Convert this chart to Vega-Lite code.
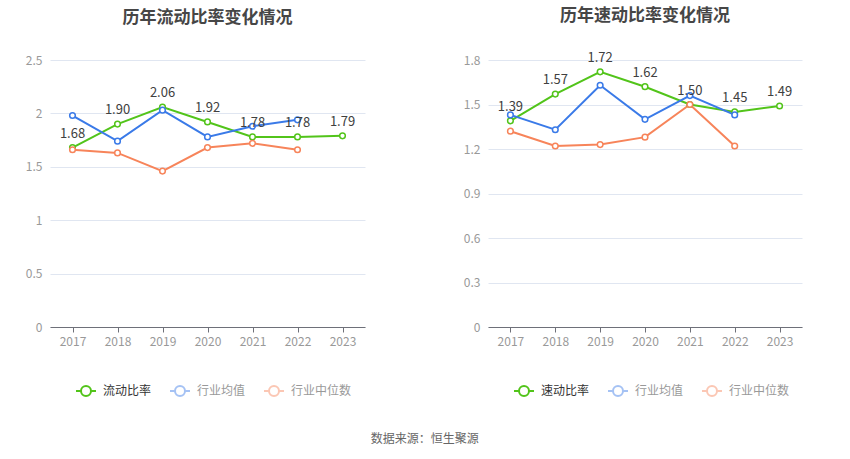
{
  "$schema": "https://vega.github.io/schema/vega-lite/v6.json",
  "padding": {"left": 25, "top": 6, "right": 5, "bottom": 5},
  "background": "white",
  "spacing": 98,
  "title": {"text": "数据来源：恒生聚源", "orient": "bottom", "anchor": "middle", "fontSize": 12, "fontWeight": "normal", "color": "#666666", "offset": 34, "dx": 11},
  "datasets": {
    "d": [
      {"p": "L", "year": "2017", "s": "流动比率", "v": 1.68},
      {"p": "L", "year": "2018", "s": "流动比率", "v": 1.90},
      {"p": "L", "year": "2019", "s": "流动比率", "v": 2.06},
      {"p": "L", "year": "2020", "s": "流动比率", "v": 1.92},
      {"p": "L", "year": "2021", "s": "流动比率", "v": 1.78},
      {"p": "L", "year": "2022", "s": "流动比率", "v": 1.78},
      {"p": "L", "year": "2023", "s": "流动比率", "v": 1.79},
      {"p": "L", "year": "2017", "s": "行业均值", "v": 1.98},
      {"p": "L", "year": "2018", "s": "行业均值", "v": 1.74},
      {"p": "L", "year": "2019", "s": "行业均值", "v": 2.03},
      {"p": "L", "year": "2020", "s": "行业均值", "v": 1.78},
      {"p": "L", "year": "2021", "s": "行业均值", "v": 1.88},
      {"p": "L", "year": "2022", "s": "行业均值", "v": 1.94},
      {"p": "L", "year": "2017", "s": "行业中位数", "v": 1.66},
      {"p": "L", "year": "2018", "s": "行业中位数", "v": 1.63},
      {"p": "L", "year": "2019", "s": "行业中位数", "v": 1.46},
      {"p": "L", "year": "2020", "s": "行业中位数", "v": 1.68},
      {"p": "L", "year": "2021", "s": "行业中位数", "v": 1.72},
      {"p": "L", "year": "2022", "s": "行业中位数", "v": 1.66},
      {"p": "R", "year": "2017", "s": "速动比率", "v": 1.39},
      {"p": "R", "year": "2018", "s": "速动比率", "v": 1.57},
      {"p": "R", "year": "2019", "s": "速动比率", "v": 1.72},
      {"p": "R", "year": "2020", "s": "速动比率", "v": 1.62},
      {"p": "R", "year": "2021", "s": "速动比率", "v": 1.50},
      {"p": "R", "year": "2022", "s": "速动比率", "v": 1.45},
      {"p": "R", "year": "2023", "s": "速动比率", "v": 1.49},
      {"p": "R", "year": "2017", "s": "行业均值", "v": 1.43},
      {"p": "R", "year": "2018", "s": "行业均值", "v": 1.33},
      {"p": "R", "year": "2019", "s": "行业均值", "v": 1.63},
      {"p": "R", "year": "2020", "s": "行业均值", "v": 1.40},
      {"p": "R", "year": "2021", "s": "行业均值", "v": 1.56},
      {"p": "R", "year": "2022", "s": "行业均值", "v": 1.43},
      {"p": "R", "year": "2017", "s": "行业中位数", "v": 1.32},
      {"p": "R", "year": "2018", "s": "行业中位数", "v": 1.22},
      {"p": "R", "year": "2019", "s": "行业中位数", "v": 1.23},
      {"p": "R", "year": "2020", "s": "行业中位数", "v": 1.28},
      {"p": "R", "year": "2021", "s": "行业中位数", "v": 1.50},
      {"p": "R", "year": "2022", "s": "行业中位数", "v": 1.22}
    ]
  },
  "hconcat": [
    {
      "width": 315,
      "height": 267,
      "title": {"text": "历年流动比率变化情况", "fontSize": 17, "fontWeight": "bold", "color": "#464646", "offset": 27, "anchor": "middle"},
      "data": {"name": "d"},
      "transform": [{"filter": "datum.p === 'L'"}],
      "encoding": {
        "x": {"field": "year", "type": "ordinal", "scale": {"type": "point", "padding": 0.5}, "axis": {"title": null, "labelAngle": 0}},
        "y": {"field": "v", "type": "quantitative", "scale": {"domain": [0, 2.5]}, "axis": {"title": null, "values": [0, 0.5, 1, 1.5, 2, 2.5], "format": ".1~f"}},
        "color": {
          "field": "s", "type": "nominal",
          "scale": {"domain": ["流动比率", "行业均值", "行业中位数"], "range": ["#52c41a", "#3a7ae8", "#f7845a"]},
          "legend": {
            "title": null, "orient": "none", "direction": "horizontal", "legendX": 25, "legendY": 320,
            "encode": {
              "symbols": {"update": {"opacity": {"signal": "datum.value === '流动比率' ? 1 : 0.45"}}},
              "labels": {"update": {"fill": {"signal": "datum.value === '流动比率' ? '#333333' : '#999999'"}}}
            }
          }
        }
      },
      "layer": [
        {"mark": {"type": "line", "strokeWidth": 2}},
        {"mark": {"type": "point", "filled": false, "fill": "white", "size": 32, "strokeWidth": 1.5, "opacity": 1}},
        {
          "transform": [{"filter": "datum.s === '流动比率'"}],
          "mark": {"type": "text", "dy": -14, "fontSize": 13},
          "encoding": {"text": {"field": "v", "type": "quantitative", "format": ".2f"}, "color": {"value": "#404040"}}
        }
      ]
    },
    {
      "width": 314,
      "height": 267,
      "title": {"text": "历年速动比率变化情况", "fontSize": 17, "fontWeight": "bold", "color": "#464646", "offset": 27, "anchor": "middle"},
      "data": {"name": "d"},
      "transform": [{"filter": "datum.p === 'R'"}],
      "encoding": {
        "x": {"field": "year", "type": "ordinal", "scale": {"type": "point", "padding": 0.5}, "axis": {"title": null, "labelAngle": 0}},
        "y": {"field": "v", "type": "quantitative", "scale": {"domain": [0, 1.8]}, "axis": {"title": null, "values": [0, 0.3, 0.6, 0.9, 1.2, 1.5, 1.8], "format": ".1f", "labelExpr": "datum.value === 0 ? '0' : datum.label"}},
        "color": {
          "field": "s", "type": "nominal",
          "scale": {"domain": ["速动比率", "行业均值", "行业中位数"], "range": ["#52c41a", "#3a7ae8", "#f7845a"]},
          "legend": {
            "title": null, "orient": "none", "direction": "horizontal", "legendX": 25, "legendY": 320,
            "encode": {
              "symbols": {"update": {"opacity": {"signal": "datum.value === '速动比率' ? 1 : 0.45"}}},
              "labels": {"update": {"fill": {"signal": "datum.value === '速动比率' ? '#333333' : '#999999'"}}}
            }
          }
        }
      },
      "layer": [
        {"mark": {"type": "line", "strokeWidth": 2}},
        {"mark": {"type": "point", "filled": false, "fill": "white", "size": 32, "strokeWidth": 1.5, "opacity": 1}},
        {
          "transform": [{"filter": "datum.s === '速动比率'"}],
          "mark": {"type": "text", "dy": -14, "fontSize": 13},
          "encoding": {"text": {"field": "v", "type": "quantitative", "format": ".2f"}, "color": {"value": "#404040"}}
        }
      ]
    }
  ],
  "resolve": {"scale": {"color": "independent", "y": "independent", "x": "independent"}, "legend": {"color": "independent"}},
  "config": {
    "font": "Noto Sans CJK SC",
    "view": {"stroke": null},
    "axisY": {"domain": false, "ticks": false, "grid": true, "gridColor": "#e0e6f1", "gridWidth": 1, "labelColor": "#999999", "labelFontSize": 12, "labelPadding": 8},
    "axisX": {"domain": true, "domainColor": "#6e7079", "ticks": true, "tickColor": "#6e7079", "tickSize": 5, "grid": false, "labelColor": "#999999", "labelFontSize": 12, "labelPadding": 4},
    "legend": {
      "symbolType": "M-1,0L-0.5,0M0.5,0L1,0M-0.5,0A0.5,0.5,0,1,0,0.5,0A0.5,0.5,0,1,0,-0.5,0",
      "symbolSize": 400, "symbolStrokeWidth": 2, "symbolFillColor": "white",
      "labelFontSize": 12, "labelOffset": 6, "columnPadding": 14
    }
  }
}
